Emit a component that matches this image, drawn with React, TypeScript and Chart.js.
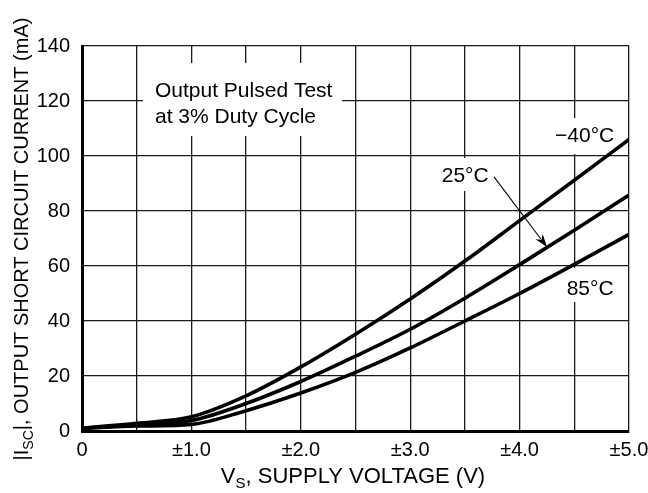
import React, { useEffect, useRef } from 'react';
import { Chart, registerables } from 'chart.js';

Chart.register(...registerables);

// ---- data ----
const supplyVoltage = [0, 0.5, 1.0, 1.5, 2.0, 2.5, 3.0, 3.5, 4.0, 4.5, 5.0];
const iscMinus40 = [1, 2.8, 5.2, 12.8, 23.3, 35.2, 48, 61.8, 76.5, 91.2, 106];
const isc25 = [1, 2.3, 3.8, 10, 18, 27.2, 37, 48.3, 60.5, 73, 85.8];
const isc85 = [1, 1.8, 2.4, 7.4, 13.8, 21.3, 30.2, 40, 50, 60.6, 71.5];
const seriesNames = ['−40°C', '25°C', '85°C'];
const xTickValues = [0, 1, 2, 3, 4, 5];
const xTickText = ['0', '±1.0', '±2.0', '±3.0', '±4.0', '±5.0'];
const yMax = 140;
const yStep = 20;
const noteLines = ['Output Pulsed Test', 'at 3% Duty Cycle'];

const FONT = "'Liberation Sans', Arial, Helvetica, sans-serif";

// annotation placement (data coordinates)
const notes = [
  { lines: noteLines, box: [0.558, 2.377, 133.8, 107.3], at: [0.667, 121.6], lh: 26.6 },
  { lines: [seriesNames[0]], box: [4.296, 4.89, 113.8, 100.7], at: [4.324, 105.2], lh: 0 },
  { lines: [seriesNames[1]], box: [3.263, 3.748, 99.3, 87.3], at: [3.288, 90.4], lh: 0 },
  { lines: [seriesNames[2]], box: [4.406, 4.89, 59.3, 46.9], at: [4.43, 49.5], lh: 0 },
];
const arrow25 = { from: [3.766, 92.4], to: [4.25, 66.9] };

type Seg = { t: string; sub?: boolean };

function drawRich(ctx: CanvasRenderingContext2D, segs: Seg[], cx: number, y: number, size: number, subSize: number, subShift: number) {
  let total = 0;
  const widths = segs.map((s) => {
    ctx.font = `${s.sub ? subSize : size}px ${FONT}`;
    const w = ctx.measureText(s.t).width;
    total += w;
    return w;
  });
  let x = cx - total / 2;
  ctx.textAlign = 'left';
  ctx.textBaseline = 'alphabetic';
  segs.forEach((s, i) => {
    ctx.font = `${s.sub ? subSize : size}px ${FONT}`;
    ctx.fillText(s.t, x, y + (s.sub ? subShift : 0));
    x += widths[i];
  });
}

const annotPlugin = {
  id: 'annot',
  beforeDatasetsDraw(chart: any) {
    const { ctx, scales } = chart;
    const xs = scales.x;
    const ys = scales.y;
    ctx.save();
    notes.forEach((n) => {
      const x0 = xs.getPixelForValue(n.box[0]);
      const x1 = xs.getPixelForValue(n.box[1]);
      const y0 = ys.getPixelForValue(n.box[2]);
      const y1 = ys.getPixelForValue(n.box[3]);
      ctx.fillStyle = '#fff';
      ctx.fillRect(x0, y0, x1 - x0, y1 - y0);
      ctx.fillStyle = '#000';
      ctx.font = `21px ${FONT}`;
      ctx.textAlign = 'left';
      ctx.textBaseline = 'alphabetic';
      const tx = xs.getPixelForValue(n.at[0]);
      const ty = ys.getPixelForValue(n.at[1]);
      n.lines.forEach((l, i) => ctx.fillText(l, tx, ty + i * n.lh));
    });
    ctx.restore();
  },
  afterDatasetsDraw(chart: any) {
    const { ctx, scales } = chart;
    const xs = scales.x;
    const ys = scales.y;
    const ax = xs.getPixelForValue(arrow25.from[0]);
    const ay = ys.getPixelForValue(arrow25.from[1]);
    const bx = xs.getPixelForValue(arrow25.to[0]);
    const by = ys.getPixelForValue(arrow25.to[1]);
    const ang = Math.atan2(by - ay, bx - ax);
    const hl = 13;
    const hw = 4.5;
    ctx.save();
    ctx.strokeStyle = '#000';
    ctx.fillStyle = '#000';
    ctx.lineWidth = 1.1;
    ctx.beginPath();
    ctx.moveTo(ax, ay);
    ctx.lineTo(bx - Math.cos(ang) * hl * 0.8, by - Math.sin(ang) * hl * 0.8);
    ctx.stroke();
    ctx.beginPath();
    ctx.moveTo(bx, by);
    ctx.lineTo(bx - Math.cos(ang) * hl - Math.sin(ang) * hw, by - Math.sin(ang) * hl + Math.cos(ang) * hw);
    ctx.lineTo(bx - Math.cos(ang) * hl * 0.7, by - Math.sin(ang) * hl * 0.7);
    ctx.lineTo(bx - Math.cos(ang) * hl + Math.sin(ang) * hw, by - Math.sin(ang) * hl - Math.cos(ang) * hw);
    ctx.closePath();
    ctx.fill();

    // axis titles
    ctx.fillStyle = '#000';
    drawRich(
      ctx,
      [{ t: 'V' }, { t: 'S', sub: true }, { t: ', SUPPLY VOLTAGE (V)' }],
      353,
      483,
      22,
      15,
      5
    );
    ctx.translate(28, 239);
    ctx.rotate(-Math.PI / 2);
    drawRich(
      ctx,
      [{ t: '|I' }, { t: 'SC', sub: true }, { t: '|, OUTPUT SHORT CIRCUIT CURRENT (mA)' }],
      0,
      0,
      20,
      14,
      5
    );
    ctx.restore();
  },
};

export default function App() {
  const ref = useRef<HTMLCanvasElement | null>(null);
  useEffect(() => {
    if (!ref.current) return;
    const mk = (vals: number[], label: string) => ({
      label,
      data: supplyVoltage.map((x, i) => ({ x, y: vals[i] })),
      borderColor: '#000',
      backgroundColor: '#000',
      borderWidth: 3.6,
      pointRadius: 0,
      fill: false,
      cubicInterpolationMode: 'monotone' as const,
    });
    const chart = new Chart(ref.current, {
      type: 'line',
      data: {
        datasets: [mk(iscMinus40, seriesNames[0]), mk(isc25, seriesNames[1]), mk(isc85, seriesNames[2])],
      },
      options: {
        animation: false,
        responsive: false,
        devicePixelRatio: 1,
        layout: { padding: { top: 46, right: 19, left: 0, bottom: 0 } },
        plugins: { legend: { display: false }, tooltip: { enabled: false }, title: { display: false } },
        scales: {
          x: {
            type: 'linear',
            min: 0,
            max: 5,
            ticks: {
              stepSize: 0.5,
              autoSkip: false,
              maxRotation: 0,
              padding: 7,
              color: '#000',
              font: { family: FONT, size: 20 },
              callback: (v: any) => {
                const i = xTickValues.indexOf(Number(v));
                return i >= 0 ? xTickText[i] : '';
              },
            },
            grid: { color: '#1a1a1a', lineWidth: 1.3, drawTicks: false },
            border: { color: '#000', width: 3 },
            afterFit: (s: any) => {
              s.height = 62;
              s.paddingLeft = 0;
              s.paddingRight = 0;
            },
          },
          y: {
            type: 'linear',
            min: 0,
            max: yMax,
            ticks: {
              stepSize: yStep,
              padding: 12,
              color: '#000',
              font: { family: FONT, size: 20 },
            },
            grid: { color: '#1a1a1a', lineWidth: 1.3, drawTicks: false },
            border: { color: '#000', width: 3 },
            afterFit: (s: any) => {
              s.width = 82;
              s.paddingTop = 0;
              s.paddingBottom = 0;
            },
          },
        },
      },
      plugins: [annotPlugin],
    });
    return () => chart.destroy();
  }, []);
  return (
    <div style={{ position: 'absolute', left: 0, top: 0, width: 648, height: 493, background: '#fff' }}>
      <canvas ref={ref} width={648} height={493} style={{ display: 'block' }} />
    </div>
  );
}
